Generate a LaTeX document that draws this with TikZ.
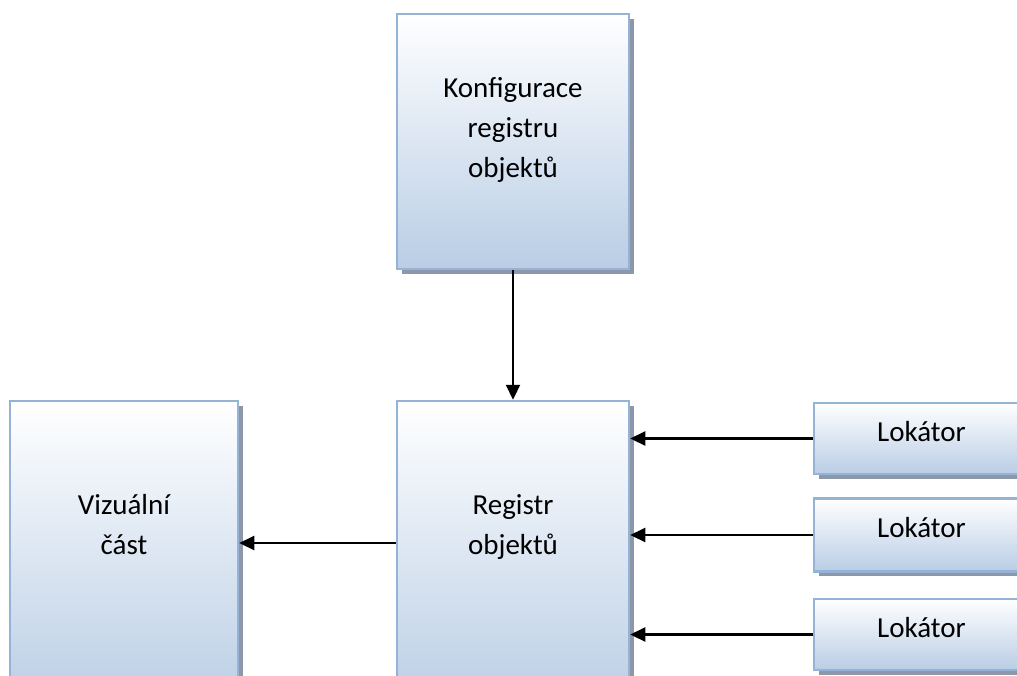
\documentclass[tikz,border=0pt]{standalone}
\usepackage{fontspec}
\setmainfont{Carlito}
\usetikzlibrary{arrows.meta,shadows}
\definecolor{boxline}{RGB}{149,179,215}
\definecolor{boxblue}{RGB}{185,205,229}
\definecolor{shadowcol}{RGB}{140,152,170}
\tikzset{
  blockbox/.style={draw=boxline, line width=2.5pt, rectangle, inner sep=0pt,
    top color=white, bottom color=boxblue,
    drop shadow={shadow xshift=4.5pt, shadow yshift=-4.5pt, fill=shadowcol, opacity=1}},
  blocktext/.style={font=\fontsize{29}{40}\selectfont, align=center, anchor=base, inner sep=0pt, text=black},
  arr/.style={draw=black, line width=2.2pt, -{Triangle[length=15pt,width=14pt]}}
}
\begin{document}
\begin{tikzpicture}[x=1pt,y=-1pt]
\useasboundingbox (0,0) rectangle (1017,675);
\clip (0,0) rectangle (1017,675);
% boxes
\node[blockbox, minimum width=232pt, minimum height=255pt] (konf) at (513,141.5) {};
\node[blockbox, minimum width=232pt, minimum height=310pt] (reg) at (513,556) {};
\node[blockbox, minimum width=228pt, minimum height=310pt] (vis) at (124,556) {};
\node[blockbox, minimum width=215pt, minimum height=71pt] (lok1) at (921.5,438.5) {};
\node[blockbox, minimum width=215pt, minimum height=73pt] (lok2) at (921.5,535) {};
\node[blockbox, minimum width=215pt, minimum height=71pt] (lok3) at (921.5,634.5) {};
% texts (anchor base = baseline of last line)
\node[blocktext] (konf-t) at (513,177) {Konfigurace\\registru\\objektů};
\node[blocktext] (reg-t) at (513,554) {Registr\\objektů};
\node[blocktext] (vis-t) at (124,554) {Vizuální\\část};
\node[blocktext] (lok1-t) at (921.5,441) {Lokátor};
\node[blocktext] (lok2-t) at (921.5,537) {Lokátor};
\node[blocktext] (lok3-t) at (921.5,637) {Lokátor};
% connectors
\draw[arr] (konf.south) -- (reg.north);
\draw[arr] ([yshift=13pt]reg.west) -- ([yshift=13pt]vis.east);
\draw[arr] (lok1.west) -- (lok1.west -| reg.east);
\draw[arr] (lok2.west) -- (lok2.west -| reg.east);
\draw[arr] (lok3.west) -- (lok3.west -| reg.east);
\end{tikzpicture}
\end{document}
